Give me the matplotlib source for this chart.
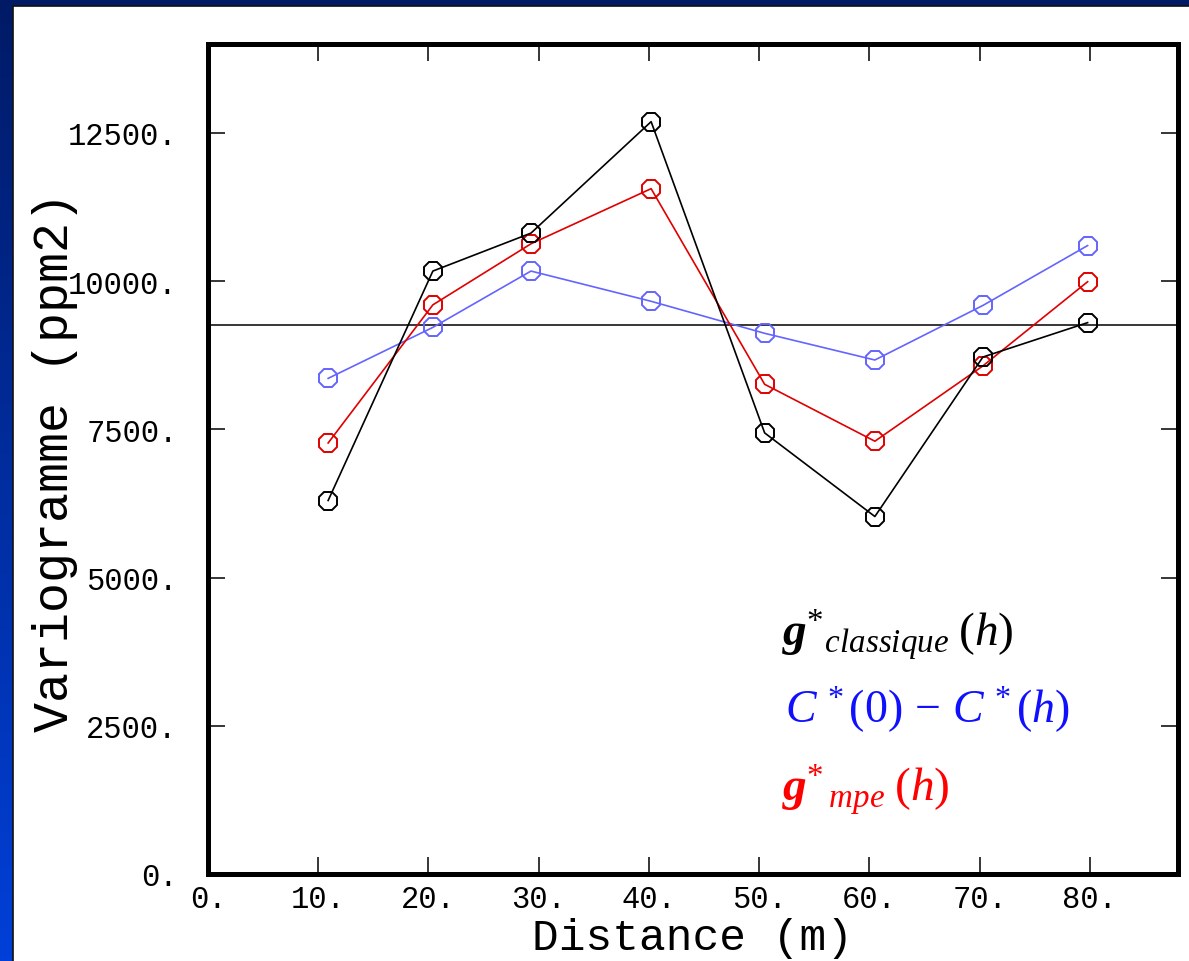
import matplotlib
matplotlib.use("Agg")
import matplotlib.pyplot as plt
import numpy as np
from matplotlib.colors import LinearSegmentedColormap
from matplotlib.patches import Rectangle

# experimental variograms (distance in m, values in ppm2)
distance = [10.9, 20.4, 29.3, 40.2, 50.5, 60.5, 70.3, 79.8]
gamma_classique = [6300, 10170, 10810, 12690, 7440, 6030, 8720, 9300]
cov_diff = [8360, 9220, 10170, 9660, 9120, 8670, 9590, 10600]
gamma_mpe = [7270, 9600, 10630, 11560, 8260, 7300, 8570, 9990]
sill = 9260

x_ticks = [0, 10, 20, 30, 40, 50, 60, 70, 80]
y_ticks = [0, 2500, 5000, 7500, 10000, 12500]

plt.rcParams['mathtext.fontset'] = 'custom'
plt.rcParams['mathtext.rm'] = 'Liberation Serif'
plt.rcParams['mathtext.it'] = 'Liberation Serif:italic'
plt.rcParams['mathtext.bf'] = 'Liberation Serif:italic:bold'

W, H = 1189, 962
fig = plt.figure(figsize=(W / 100, H / 100), dpi=100)

# slide background: blue gradient frame with a white panel
bg = fig.add_axes([0, 0, 1, 1], zorder=0)
grad = np.linspace(0, 1, 256).reshape(-1, 1)
cmap = LinearSegmentedColormap.from_list("slide", ["#001a66", "#0040d8"])
bg.imshow(grad, cmap=cmap, aspect="auto", extent=[0, 1, 0, 1], origin="upper")
bg.add_patch(Rectangle((13 / W, -0.01), 1, 1.01 - 7 / H, facecolor="white",
                       edgecolor="#111111", linewidth=1.2))
bg.set_xlim(0, 1)
bg.set_ylim(0, 1)
bg.axis("off")

ax = fig.add_axes([208 / W, 1 - 875 / H, (1178 - 208) / W, (875 - 45) / H], zorder=1)
ax.set_facecolor("none")

ax.axhline(sill, color="black", lw=1.1)
style = dict(marker="8", markersize=13.5, markerfacecolor="none", markeredgewidth=1.4, lw=1.2)
ax.plot(distance, cov_diff, color="#6464ff", **style)
ax.plot(distance, gamma_mpe, color="#e00000", **style)
ax.plot(distance, gamma_classique, color="black", **style)

ax.set_xlim(0, 88)
ax.set_ylim(0, 14000)
ax.set_xticks(x_ticks)
ax.set_yticks(y_ticks)
ax.set_xticklabels([f"{v}." for v in x_ticks])
ax.set_yticklabels([f"{v}." for v in y_ticks])

for s in ax.spines.values():
    s.set_linewidth(3.6)
ax.tick_params(direction="in", length=12, width=1.1, top=True, right=True,
               labelsize=22)
ax.tick_params(axis="x", pad=7)
ax.tick_params(axis="y", pad=22)
for lab in ax.get_xticklabels() + ax.get_yticklabels():
    lab.set_fontfamily("Liberation Mono")

fig.text(692 / W, 1 - 950 / H, "Distance (m)", family="Liberation Mono",
         fontsize=32, ha="center", va="baseline")
fig.text(55 / W, 1 - 462 / H, "Variogramme (ppm2)", family="Liberation Mono",
         fontsize=36, ha="center", va="center", rotation=90)

fig.text(782 / W, 1 - 635 / H, r"$\mathbf{g}^{*}{}_{classique}\;(h)$",
         fontsize=34, color="black", va="center")
fig.text(785 / W, 1 - 710 / H, r"$C^{\,*}(0)\,-\,C^{\,*}(h)$",
         fontsize=33, color="#1010ff", va="center")
fig.text(782 / W, 1 - 790 / H, r"$\mathbf{g}^{*}{}_{\,mpe}\;(h)$",
         fontsize=34, color="red", va="center")

fig.savefig("out.png", dpi=100)
